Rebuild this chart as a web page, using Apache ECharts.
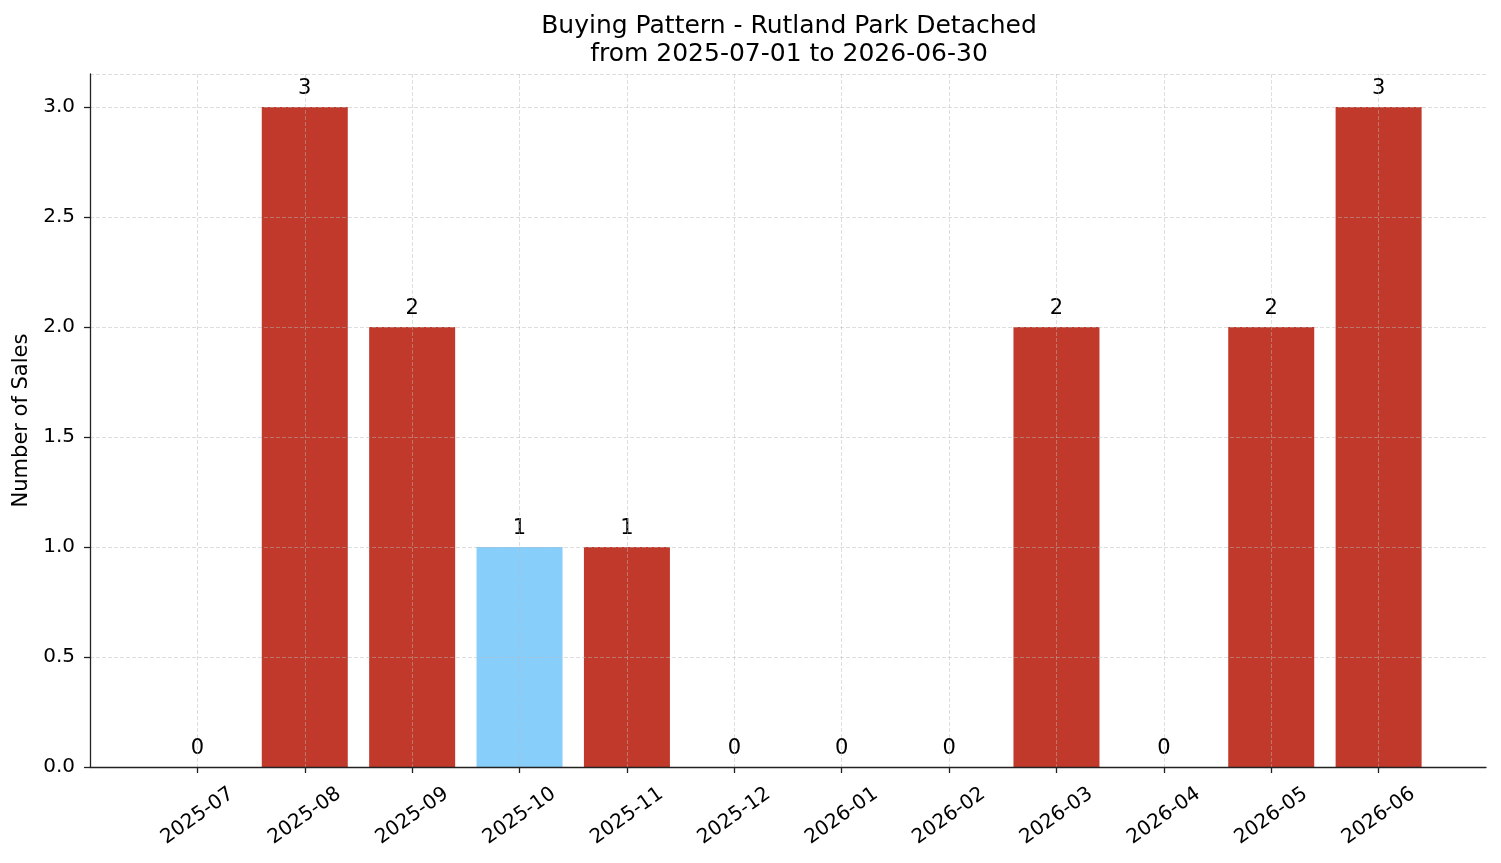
<!DOCTYPE html>
<html>
<head>
<meta charset="utf-8">
<title>Buying Pattern - Rutland Park Detached</title>
<script src="https://cdn.jsdelivr.net/npm/echarts@6/dist/echarts.min.js"></script>
<style>
  html, body { margin: 0; padding: 0; background: #fff; }
  #chart { width: 1501px; height: 863px; }
</style>
</head>
<body>
<div id="chart"></div>
<script>
// monthly sales counts
const months = ['2025-07', '2025-08', '2025-09', '2025-10', '2025-11', '2025-12',
  '2026-01', '2026-02', '2026-03', '2026-04', '2026-05', '2026-06']
const sales = [0, 3, 2, 1, 1, 0, 0, 0, 2, 0, 2, 3]
const yTicks = [0, 0.5, 1, 1.5, 2, 2.5, 3]
const highlightMonth = '2025-10'

const FONT = 'DejaVu Sans'
const RED = '#c0392b'
const BLUE = '#87cefa'
const GRID_LINE = { color: 'rgba(185, 185, 185, 0.6)', width: 0.8, type: [4, 2] }

// empty slot at both ends gives matplotlib-like margins
const cats = [''].concat(months, [''])
const barData = [null].concat(sales.map((v, i) => ({
  value: v,
  itemStyle: { color: months[i] === highlightMonth ? BLUE : RED }
})), [null])

const chart = echarts.init(document.getElementById('chart'))

const option = {
  animation: false,
  textStyle: { fontFamily: FONT },
  title: {
    text: 'Buying Pattern - Rutland Park Detached\nfrom 2025-07-01 to 2026-06-30',
    left: 784,
    textAlign: 'center',
    top: 7,
    textStyle: {
      fontFamily: FONT,
      fontSize: 25,
      fontWeight: 'normal',
      color: '#000',
      lineHeight: 28
    }
  },
  grid: {
    left: 90,
    right: 15,
    top: 74,
    bottom: 96
  },
  xAxis: {
    type: 'category',
    data: cats,
    boundaryGap: false,
    z: 3,
    axisLine: { lineStyle: { color: '#222', width: 1.3 } },
    axisTick: {
      length: 6,
      interval: (i, v) => v !== '',
      lineStyle: { color: '#222', width: 1.3 }
    },
    axisLabel: {
      interval: 0,
      rotate: 35,
      align: 'center',
      verticalAlign: 'middle',
      margin: 49,
      fontSize: 20,
      color: '#000',
      fontFamily: FONT
    },
    splitLine: {
      show: true,
      interval: (i, v) => v !== '',
      lineStyle: GRID_LINE
    }
  },
  yAxis: {
    type: 'value',
    min: 0,
    max: 3.15,
    interval: 0.5,
    z: 3,
    name: 'Number of Sales',
    nameLocation: 'middle',
    nameGap: 56,
    nameTextStyle: { fontSize: 21, color: '#000', fontFamily: FONT },
    axisLine: { show: true, lineStyle: { color: '#222', width: 1.3 } },
    axisTick: { show: true, length: 6, lineStyle: { color: '#222', width: 1.3 } },
    axisLabel: {
      fontSize: 20,
      color: '#000',
      margin: 15,
      fontFamily: FONT,
      showMaxLabel: false,
      formatter: v => yTicks.includes(v) ? v.toFixed(1) : ''
    },
    splitLine: { show: true, lineStyle: GRID_LINE }
  },
  series: [{
    type: 'bar',
    data: barData,
    barWidth: 86,
    label: {
      show: true,
      position: 'top',
      distance: 8,
      fontSize: 21,
      color: '#000',
      fontFamily: FONT,
      formatter: p => String(p.value)
    }
  }]
}

chart.setOption(option)
</script>
</body>
</html>
